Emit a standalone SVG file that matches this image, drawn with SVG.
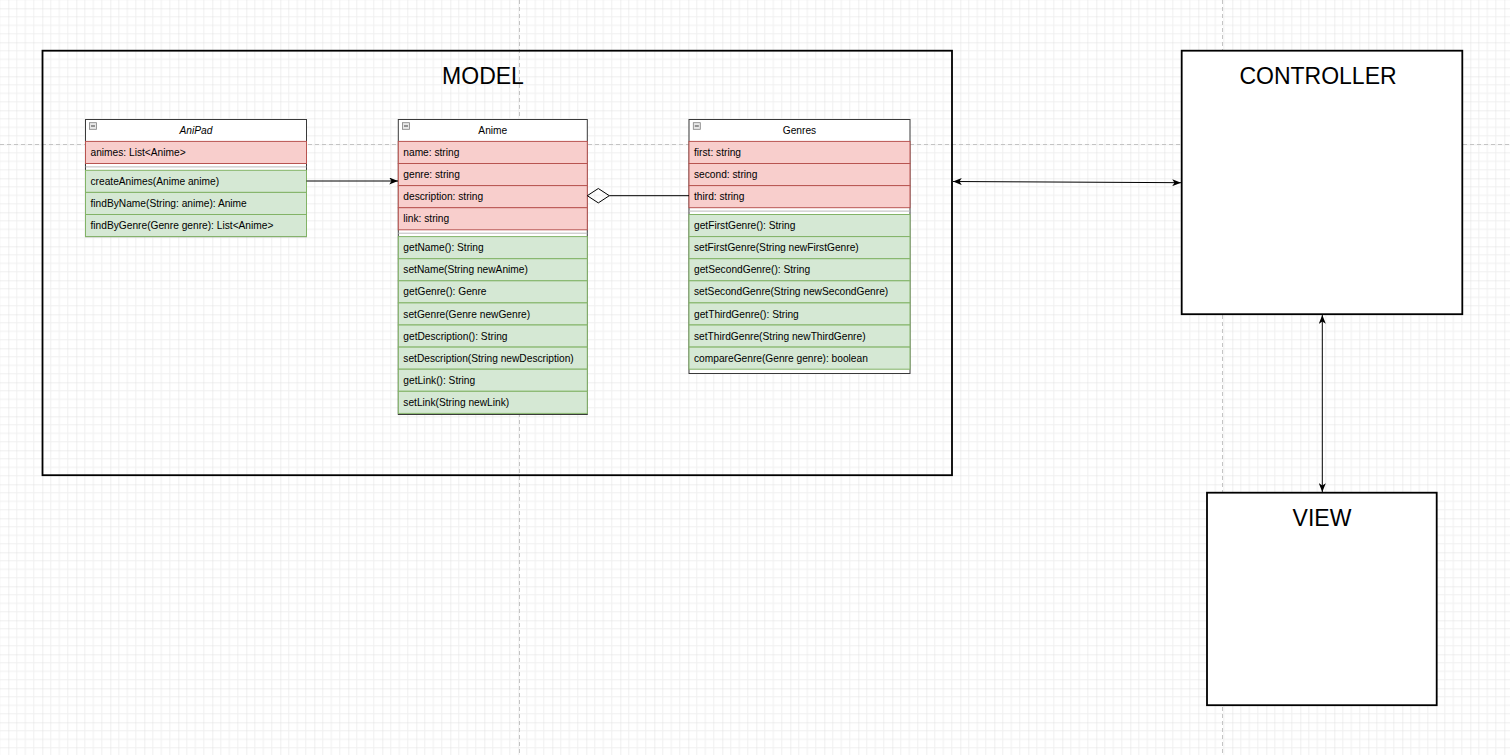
<svg xmlns="http://www.w3.org/2000/svg" width="1510" height="755" viewBox="0 0 1510 755">
  <style>
    .t { font-family: "Liberation Sans", Arial, Helvetica, sans-serif; font-size: 10.2px; fill: #000; }
    .title { font-family: "Liberation Sans", Arial, Helvetica, sans-serif; font-size: 23px; fill: #000; }
    .hdr { fill: #fff; stroke: #3a3a3a; stroke-width: 1; }
    .attr { fill: #f8cecc; stroke: #b85450; stroke-width: 1; }
    .meth { fill: #d5e8d4; stroke: #82b366; stroke-width: 1; }
    .sep { stroke: #bbbbbb; stroke-width: 1; }
    .icon { fill: #e8e8e8; stroke: #808080; stroke-width: 0.8; }
    .minus { stroke: #404040; stroke-width: 1; }
    .conn { stroke: #000; stroke-width: 1; fill: none; }
    .big { stroke: #000; stroke-width: 1.8; }
    .pb { stroke: #c4c4c4; stroke-width: 1; stroke-dasharray: 4 3; }
  </style>
  <defs>
    <pattern id="grid" x="8.3" y="8.3" width="34" height="34" patternUnits="userSpaceOnUse">
      <path d="M8.5 0V34M17 0V34M25.5 0V34M0 8.5H34M0 17H34M0 25.5H34" stroke="#f0f0f0" stroke-width="1" fill="none"/>
      <path d="M0 0V34M0 0H34" stroke="#e0e0e0" stroke-width="1" fill="none"/>
    </pattern>
    <marker id="arr" viewBox="0 0 10 8" refX="10" refY="4" markerWidth="9" markerHeight="7" markerUnits="userSpaceOnUse" orient="auto-start-reverse">
      <path d="M0,0 L10,4 L0,8 L2.5,4 Z" fill="#000"/>
    </marker>
  </defs>

  <rect x="0" y="0" width="1510" height="755" fill="#fff"/>
  <rect x="0" y="0" width="1510" height="755" fill="url(#grid)"/>
  <g id="page-breaks">
    <line class="pb" x1="519.5" y1="0" x2="519.5" y2="755"/>
    <line class="pb" x1="1222.5" y1="0" x2="1222.5" y2="755"/>
    <line class="pb" x1="0" y1="144.5" x2="1510" y2="144.5"/>
  </g>

  <g id="model">
    <rect class="big" x="42.5" y="50.7" width="909.5" height="424.5" fill="none"/>
    <text class="title" x="483" y="84" text-anchor="middle">MODEL</text>
  </g>

  <g id="controller">
    <rect class="big" x="1181.7" y="50.7" width="280.6" height="263.5" fill="#fff"/>
    <text class="title" x="1318" y="84" text-anchor="middle">CONTROLLER</text>
  </g>

  <g id="view">
    <rect class="big" x="1207" y="492.7" width="229.7" height="212.5" fill="#fff"/>
    <text class="title" x="1322" y="526" text-anchor="middle">VIEW</text>
  </g>

  <g id="anipad">
    <rect class="hdr" x="85.5" y="119.5" width="221" height="117.1"/>
    <rect class="icon" x="89.5" y="122.7" width="7" height="6.6"/>
    <line class="minus" x1="91" y1="126" x2="95" y2="126"/>
    <text class="t" x="196" y="134.3" text-anchor="middle" font-style="italic">AniPad</text>
    <rect class="attr" x="85.5" y="141.4" width="221" height="22.1"/>
    <text class="t" x="90.5" y="156">animes: List&lt;Anime&gt;</text>
    <line class="sep" x1="85.5" y1="166.9" x2="306.5" y2="166.9"/>
    <rect class="meth" x="85.5" y="170.3" width="221" height="22.1"/>
    <text class="t" x="90.5" y="184.9">createAnimes(Anime anime)</text>
    <rect class="meth" x="85.5" y="192.4" width="221" height="22.1"/>
    <text class="t" x="90.5" y="207">findByName(String: anime): Anime</text>
    <rect class="meth" x="85.5" y="214.5" width="221" height="22.1"/>
    <text class="t" x="90.5" y="229.1">findByGenre(Genre genre): List&lt;Anime&gt;</text>
  </g>

  <g id="anime">
    <rect class="hdr" x="398.3" y="119.5" width="189" height="295"/>
    <rect class="icon" x="402.5" y="122.7" width="7" height="6.6"/>
    <line class="minus" x1="404" y1="126" x2="408" y2="126"/>
    <text class="t" x="492.8" y="134.3" text-anchor="middle">Anime</text>
    <rect class="attr" x="398.3" y="141.4" width="189" height="22.1"/>
    <text class="t" x="403.3" y="156">name: string</text>
    <rect class="attr" x="398.3" y="163.5" width="189" height="22.1"/>
    <text class="t" x="403.3" y="178.1">genre: string</text>
    <rect class="attr" x="398.3" y="185.6" width="189" height="22.1"/>
    <text class="t" x="403.3" y="200.2">description: string</text>
    <rect class="attr" x="398.3" y="207.7" width="189" height="22.1"/>
    <text class="t" x="403.3" y="222.3">link: string</text>
    <line class="sep" x1="398.3" y1="233.2" x2="587.3" y2="233.2"/>
    <rect class="meth" x="398.3" y="236.6" width="189" height="22.1"/>
    <text class="t" x="403.3" y="251.2">getName(): String</text>
    <rect class="meth" x="398.3" y="258.7" width="189" height="22.1"/>
    <text class="t" x="403.3" y="273.3">setName(String newAnime)</text>
    <rect class="meth" x="398.3" y="280.8" width="189" height="22.1"/>
    <text class="t" x="403.3" y="295.4">getGenre(): Genre</text>
    <rect class="meth" x="398.3" y="302.9" width="189" height="22.1"/>
    <text class="t" x="403.3" y="317.5">setGenre(Genre newGenre)</text>
    <rect class="meth" x="398.3" y="325" width="189" height="22.1"/>
    <text class="t" x="403.3" y="339.6">getDescription(): String</text>
    <rect class="meth" x="398.3" y="347.1" width="189" height="22.1"/>
    <text class="t" x="403.3" y="361.7">setDescription(String newDescription)</text>
    <rect class="meth" x="398.3" y="369.2" width="189" height="22.1"/>
    <text class="t" x="403.3" y="383.8">getLink(): String</text>
    <rect class="meth" x="398.3" y="391.3" width="189" height="22.1"/>
    <text class="t" x="403.3" y="405.9">setLink(String newLink)</text>
  </g>

  <g id="genres">
    <rect class="hdr" x="689" y="119.5" width="221" height="254"/>
    <rect class="icon" x="693.3" y="122.7" width="7" height="6.6"/>
    <line class="minus" x1="694.8" y1="126" x2="698.8" y2="126"/>
    <text class="t" x="799.5" y="134.3" text-anchor="middle">Genres</text>
    <rect class="attr" x="689" y="141.4" width="221" height="22.1"/>
    <text class="t" x="694" y="156">first: string</text>
    <rect class="attr" x="689" y="163.5" width="221" height="22.1"/>
    <text class="t" x="694" y="178.1">second: string</text>
    <rect class="attr" x="689" y="185.6" width="221" height="22.1"/>
    <text class="t" x="694" y="200.2">third: string</text>
    <line class="sep" x1="689" y1="211.1" x2="910" y2="211.1"/>
    <rect class="meth" x="689" y="214.5" width="221" height="22.1"/>
    <text class="t" x="694" y="229.1">getFirstGenre(): String</text>
    <rect class="meth" x="689" y="236.6" width="221" height="22.1"/>
    <text class="t" x="694" y="251.2">setFirstGenre(String newFirstGenre)</text>
    <rect class="meth" x="689" y="258.7" width="221" height="22.1"/>
    <text class="t" x="694" y="273.3">getSecondGenre(): String</text>
    <rect class="meth" x="689" y="280.8" width="221" height="22.1"/>
    <text class="t" x="694" y="295.4">setSecondGenre(String newSecondGenre)</text>
    <rect class="meth" x="689" y="302.9" width="221" height="22.1"/>
    <text class="t" x="694" y="317.5">getThirdGenre(): String</text>
    <rect class="meth" x="689" y="325" width="221" height="22.1"/>
    <text class="t" x="694" y="339.6">setThirdGenre(String newThirdGenre)</text>
    <rect class="meth" x="689" y="347.1" width="221" height="22.1"/>
    <text class="t" x="694" y="361.7">compareGenre(Genre genre): boolean</text>
  </g>

  <g id="connectors">
    <line class="conn" x1="306.5" y1="181" x2="398" y2="181" marker-end="url(#arr)"/>
    <line class="conn" x1="609.3" y1="195.7" x2="689" y2="195.7"/>
    <path class="conn" d="M587.3,195.7 L598.3,188.5 L609.3,195.7 L598.3,202.9 Z" fill="#fff"/>
    <line class="conn" x1="953" y1="181.5" x2="1181" y2="182.7" marker-start="url(#arr)" marker-end="url(#arr)"/>
    <line class="conn" x1="1322.3" y1="315" x2="1322.3" y2="492" marker-start="url(#arr)" marker-end="url(#arr)"/>
  </g>
</svg>
